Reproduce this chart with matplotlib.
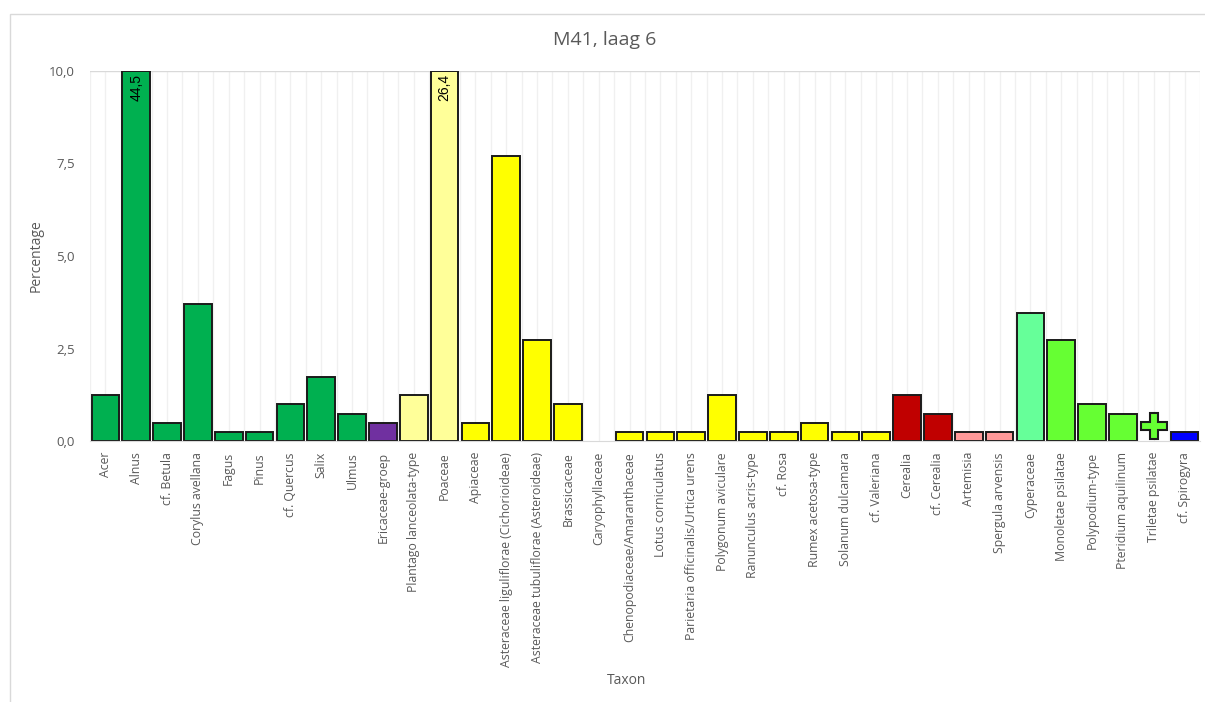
import matplotlib.pyplot as plt
from matplotlib.patches import Rectangle
import numpy as np

# ---------- DATA ----------
taxa = ["Acer", "Alnus", "cf. Betula", "Corylus avellana", "Fagus", "Pinus",
        "cf. Quercus", "Salix", "Ulmus", "Ericaceae-groep", "Plantago lanceolata-type",
        "Poaceae", "Apiaceae", "Asteraceae liguliflorae (Cichorioideae)",
        "Asteraceae tubuliflorae (Asteroideae)", "Brassicaceae", "Caryophyllaceae",
        "Chenopodiaceae/Amaranthaceae", "Lotus corniculatus",
        "Parietaria officinalis/Urtica urens", "Polygonum aviculare",
        "Ranunculus acris-type", "cf. Rosa", "Rumex acetosa-type", "Solanum dulcamara",
        "cf. Valeriana", "Cerealia", "cf. Cerealia", "Artemisia", "Spergula arvensis",
        "Cyperaceae", "Monoletae psilatae", "Polypodium-type", "Pteridium aquilinum",
        "Triletae psilatae", "cf. Spirogyra"]

values = [1.24, 44.5, 0.49, 3.70, 0.25, 0.25,
          0.99, 1.73, 0.74, 0.49, 1.24,
          26.4, 0.49, 7.70,
          2.72, 0.99, 0.0,
          0.25, 0.25,
          0.25, 1.24,
          0.25, 0.25, 0.49, 0.25,
          0.25, 1.24, 0.74, 0.25, 0.25,
          3.46, 2.72, 0.99, 0.74,
          0.0, 0.25]

colors = ["#00B050"] * 9 + ["#7030A0", "#FFFF99", "#FFFF99"] + ["#FFFF00"] * 14 \
    + ["#C00000", "#C00000", "#FF9999", "#FF9999", "#66FF99"] \
    + ["#66FF33"] * 4 + ["#0000FF"]

# bars cut off at the axis top get their real value written on them
labelled = {"Alnus": "44,5", "Poaceae": "26,4"}

# Triletae psilatae only "present": drawn as a plus marker
present_taxon = "Triletae psilatae"
present_level = 0.4

YMAX = 10.0
yticks = [0, 2.5, 5.0, 7.5, 10.0]

GRAY = "#595959"
GRID = "#F0F0F0"
FONT = "Open Sans"

# ---------- FIGURE ----------
fig = plt.figure(figsize=(12.05, 7.02), dpi=100)
fig.patches.append(Rectangle((10 / 1205, -0.01), 1.0, 1 - 14 / 702 + 0.01,
                             transform=fig.transFigure, fill=False,
                             edgecolor="#D9D9D9", linewidth=1.0))

ax = fig.add_axes([90 / 1205, 1 - 441 / 702, 1110 / 1205, 370 / 702])
x = np.arange(len(taxa))

# light vertical grid at centres and borders of categories
for xi in np.arange(-0.5, len(taxa), 0.5):
    ax.axvline(xi, color=GRID, lw=1.0, zorder=0)
ax.axhline(YMAX, color="#D9D9D9", lw=1.0, zorder=1)

vals = np.minimum(values, YMAX)
nz = vals > 0
ax.bar(x[nz], vals[nz], width=0.9, color=np.array(colors)[nz],
       edgecolor="#1A1A1A", linewidth=1.4, zorder=2)

for name, txt in labelled.items():
    i = taxa.index(name)
    ax.text(i, YMAX - 0.08, txt, rotation=90, ha="center", va="top",
            fontsize=10, color="black", family="Liberation Sans", zorder=3)

i = taxa.index(present_taxon)
ax.plot(i, present_level, marker="P", markersize=19, color="#66FF33",
        markeredgecolor="#1A1A1A", markeredgewidth=1.5, zorder=3, clip_on=False)

ax.set_xlim(-0.5, len(taxa) - 0.5)
ax.set_ylim(0, YMAX)
ax.set_yticks(yticks)
ax.set_yticklabels([f"{v:.1f}".replace(".", ",") for v in yticks],
                   fontsize=9.5, color=GRAY, family=FONT)
ax.set_xticks(x)
ax.set_xticklabels(taxa, rotation=90, fontsize=8.8, color=GRAY, family=FONT)
ax.tick_params(length=0, pad=8)
ax.tick_params(axis="y", pad=11)

for s in ["top", "left", "right"]:
    ax.spines[s].set_visible(False)
ax.spines["bottom"].set_color("#D9D9D9")

ax.set_ylabel("Percentage", fontsize=10, color=GRAY, family=FONT, labelpad=4)
fig.text(627 / 1205, 1 - 680 / 702, "Taxon", ha="center", va="center",
         fontsize=10, color=GRAY, family=FONT)
fig.text(605 / 1205, 1 - 40 / 702, "M41, laag 6", ha="center", va="center",
         fontsize=14, color=GRAY, family=FONT)

fig.savefig("out.png", dpi=100)
